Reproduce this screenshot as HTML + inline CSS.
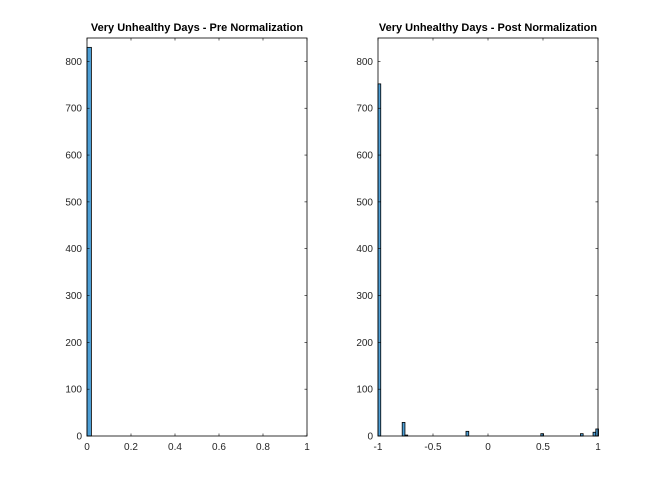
<!DOCTYPE html>
<html><head><meta charset="utf-8"><style>
body{margin:0;background:#fff;}
svg{display:block;font-family:"Liberation Sans",Arial,sans-serif;}
</style></head><body>
<svg id="c" width="662" height="490"></svg>
<script>
const leftBinStarts=[0];
const leftCounts=[830];
const leftBinWidth=0.02;
const rightBinStarts=[-1,-0.78,-0.755,-0.2,0.48,0.84,0.955,0.98];
const rightCounts=[752,29,2,10,5,5,8,15];
const rightBinWidth=0.025;
const yTicks=[0,100,200,300,400,500,600,700,800];
const leftXTicks=[0,0.2,0.4,0.6,0.8,1];
const leftXLabels=["0","0.2","0.4","0.6","0.8","1"];
const rightXTicks=[-1,-0.5,0,0.5,1];
const rightXLabels=["-1","-0.5","0","0.5","1"];
const NS="http://www.w3.org/2000/svg";
const svg=document.getElementById('c');
function mk(t,a,p){const e=document.createElementNS(NS,t);for(const k in a)e.setAttribute(k,a[k]);(p||svg).appendChild(e);return e;}
function panel(name,x0,x1,xmin,xmax,starts,counts,bw,xt,xl,title){
  const top=38,bot=436,ymax=850;
  const g=mk('g',{});
  
  
  const sx=v=>x0+(v-xmin)/(xmax-xmin)*(x1-x0);
  const sy=v=>bot-v/ymax*(bot-top);
  mk('rect',{x:x0,y:top,width:x1-x0,height:bot-top,fill:'#fff',stroke:'none'},g);
  starts.forEach((s,i)=>{
    const r=mk('rect',{x:sx(s),y:sy(counts[i]),width:sx(s+bw)-sx(s),height:bot-sy(counts[i]),fill:'#4d9fd6',stroke:'#000','stroke-width':0.8},g);
    
    
  });
  mk('rect',{x:x0,y:top,width:x1-x0,height:bot-top,fill:'none',stroke:'#000','stroke-width':0.8},g);
  yTicks.forEach(v=>{
    const y=sy(v);
    mk('line',{x1:x0,x2:x0+2.5,y1:y,y2:y,stroke:'#000','stroke-width':0.6},g);
    mk('line',{x1:x1,x2:x1-2.5,y1:y,y2:y,stroke:'#000','stroke-width':0.6},g);
    const t=mk('text',{x:x0-5,y:y+3.5,'text-anchor':'end','font-size':10,fill:'#262626'},g);t.textContent=v;
    
    
  });
  xt.forEach((v,i)=>{
    const x=sx(v);
    mk('line',{x1:x,x2:x,y1:bot,y2:bot-2.5,stroke:'#000','stroke-width':0.6},g);
    mk('line',{x1:x,x2:x,y1:top,y2:top+2.5,stroke:'#000','stroke-width':0.6},g);
    const t=mk('text',{x:x,y:bot+14,'text-anchor':'middle','font-size':10,fill:'#262626'},g);t.textContent=xl[i];
    
    
  });
  const tt=mk('text',{x:(x0+x1)/2,y:31,'text-anchor':'middle','font-size':11,'font-weight':'bold',fill:'#000'},g);tt.textContent=title;
  
  
}
panel('pre-normalization-histogram',87,307,0,1,leftBinStarts,leftCounts,leftBinWidth,leftXTicks,leftXLabels,'Very Unhealthy Days - Pre Normalization');
panel('post-normalization-histogram',378,598,-1,1,rightBinStarts,rightCounts,rightBinWidth,rightXTicks,rightXLabels,'Very Unhealthy Days - Post Normalization');
</script>
</body></html>
